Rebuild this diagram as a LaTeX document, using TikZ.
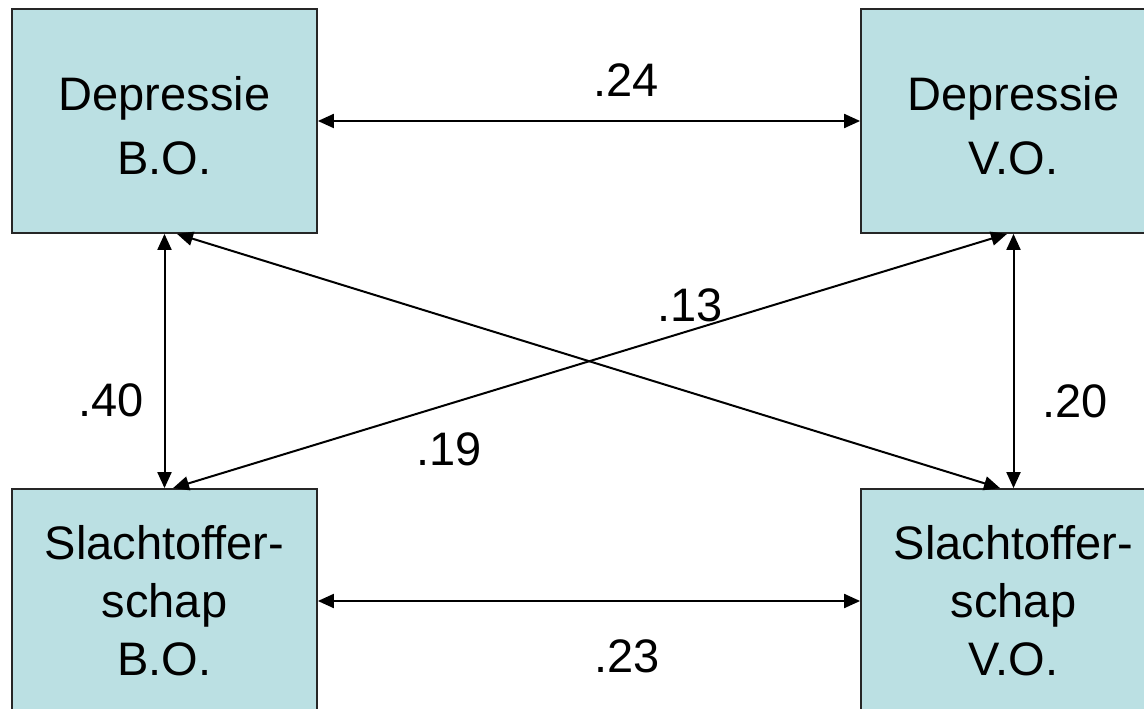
\documentclass[tikz,border=0pt]{standalone}
\usepackage{fontspec}
\setmainfont{Liberation Sans}
\usetikzlibrary{arrows.meta}
\definecolor{boxfill}{RGB}{187,224,227}

\begin{document}
\begin{tikzpicture}[x=0.5pt, y=0.5pt, >={Triangle[length=8pt, width=7pt]}, line width=1pt,
    varbox/.style={draw=black!85, line width=0.9pt, fill=boxfill, minimum width=152.5pt, minimum height=112pt, align=center, font=\fontsize{23.5}{29}\selectfont},
    coef/.style={inner sep=0pt, font=\fontsize{23.5}{28}\selectfont}]
    \path[use as bounding box, clip] (0,0) rectangle (1144,708);

    \node[varbox, text height=53.8pt] (depbo) at (164.5,587) {Depressie\\[3pt]B.O.};
    \node[varbox, text height=53.8pt] (depvo) at (1013.5,587) {Depressie\\[3pt]V.O.};
    \node[varbox] (slbo) at (164.5,107) {Slachtoffer-\\schap\\B.O.};
    \node[varbox] (slvo) at (1013.5,107) {Slachtoffer-\\schap\\V.O.};

    \path[<->]
      (depbo) edge node[coef, pos=0.568, above=11.6pt] (r24) {.24} (depvo)
      (slbo) edge node[coef, pos=0.57, below=19pt] (r23) {.23} (slvo)
      (depbo) edge node[coef, pos=0.656, left=9.7pt] (r40) {.40} (slbo)
      (depvo) edge node[coef, pos=0.66, right=14pt] (r20) {.20} (slvo)
      ([xshift=6.25pt]depbo.south) edge ([xshift=-6.75pt]slvo.north)
      ([xshift=4.25pt]slbo.north) edge node[coef, pos=0.331, below=14pt] (r19) {.19}
        node[coef, pos=0.62, above=4pt] (r13) {.13} ([xshift=-3.25pt]depvo.south)
    ;
\end{tikzpicture}
\end{document}
